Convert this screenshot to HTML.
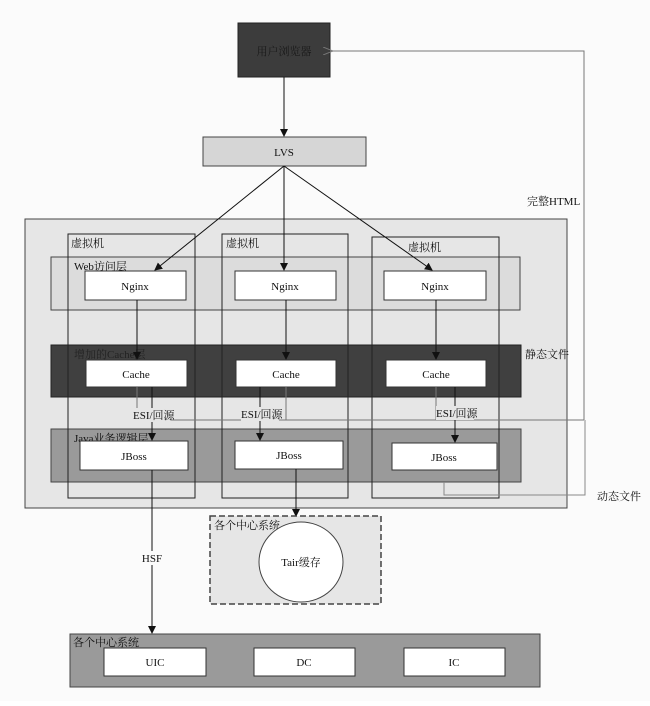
<!DOCTYPE html>
<html><head><meta charset="utf-8"><style>
html,body{margin:0;padding:0;background:#fff;}
svg text{font-family:"Liberation Serif","Noto Serif CJK SC",serif;font-size:11px;fill:#111;}
</style></head><body>
<svg width="650" height="701" viewBox="0 0 650 701" xmlns="http://www.w3.org/2000/svg">
<defs>
<marker id="a" markerWidth="8" markerHeight="8" refX="7" refY="4" orient="auto" markerUnits="userSpaceOnUse"><path d="M0,0 L8,4 L0,8 z" fill="#111"/></marker>
<marker id="g" markerWidth="10" markerHeight="8" refX="1" refY="4" orient="auto" markerUnits="userSpaceOnUse"><path d="M10,0 L0,4 L10,8" fill="none" stroke="#777"/></marker>
</defs>
<rect width="650" height="701" fill="#fbfbfb"/>
<!-- browser -->
<rect x="238" y="23" width="92" height="54" fill="#3c3c3c" stroke="#222"/>
<text x="284" y="55" text-anchor="middle" fill="#222" style="fill:#1a1a1a">用户浏览器</text>
<line x1="284" y1="77" x2="284" y2="136" stroke="#111" marker-end="url(#a)"/>
<!-- LVS -->
<rect x="203" y="137" width="163" height="29" fill="#d6d6d6" stroke="#444"/>
<text x="284" y="156" text-anchor="middle">LVS</text>
<!-- feedback -->
<polyline points="584,420 584,51 332,51" fill="none" stroke="#777" marker-end="url(#g)"/>
<text x="527" y="205">完整HTML</text>
<!-- outer -->
<rect x="25" y="219" width="542" height="289" fill="#e6e6e6" stroke="#444"/>
<!-- layers -->
<rect x="51" y="257" width="469" height="53" fill="#dcdcdc" stroke="#444"/>
<rect x="51" y="345" width="470" height="52" fill="#404040" stroke="#222"/>
<rect x="51" y="429" width="470" height="53" fill="#9a9a9a" stroke="#444"/>
<!-- VMs -->
<rect x="68" y="234" width="127" height="264" fill="none" stroke="#222"/>
<rect x="222" y="234" width="126" height="264" fill="none" stroke="#222"/>
<rect x="372" y="237" width="127" height="261" fill="none" stroke="#222"/>
<text x="71" y="247">虚拟机</text>
<text x="226" y="247">虚拟机</text>
<text x="408" y="251">虚拟机</text>
<text x="74" y="270">Web访问层</text>
<text x="74" y="358" style="fill:#222">增加的Cache层</text>
<text x="74" y="442">Java业务逻辑层</text>
<text x="525" y="358">静态文件</text>
<!-- LVS to nginx -->
<line x1="284" y1="166" x2="155" y2="270" stroke="#111" marker-end="url(#a)"/>
<line x1="284" y1="166" x2="284" y2="270" stroke="#111" marker-end="url(#a)"/>
<line x1="284" y1="166" x2="432" y2="270" stroke="#111" marker-end="url(#a)"/>
<!-- nginx -->
<rect x="85" y="271" width="101" height="29" fill="#fff" stroke="#333"/>
<rect x="235" y="271" width="101" height="29" fill="#fff" stroke="#333"/>
<rect x="384" y="271" width="102" height="29" fill="#fff" stroke="#333"/>
<text x="135" y="290" text-anchor="middle">Nginx</text>
<text x="285" y="290" text-anchor="middle">Nginx</text>
<text x="435" y="290" text-anchor="middle">Nginx</text>
<line x1="137" y1="300" x2="137" y2="359" stroke="#111" marker-end="url(#a)"/>
<line x1="286" y1="300" x2="286" y2="359" stroke="#111" marker-end="url(#a)"/>
<line x1="436" y1="300" x2="436" y2="359" stroke="#111" marker-end="url(#a)"/>
<!-- cache -->
<rect x="86" y="360" width="101" height="27" fill="#fff" stroke="#333"/>
<rect x="236" y="360" width="100" height="27" fill="#fff" stroke="#333"/>
<rect x="386" y="360" width="100" height="27" fill="#fff" stroke="#333"/>
<text x="136" y="378" text-anchor="middle">Cache</text>
<text x="286" y="378" text-anchor="middle">Cache</text>
<text x="436" y="378" text-anchor="middle">Cache</text>
<!-- ESI lines -->
<line x1="137" y1="387" x2="137" y2="420" stroke="#777"/>
<line x1="286" y1="387" x2="286" y2="420" stroke="#777"/>
<line x1="436" y1="387" x2="436" y2="420" stroke="#777"/>
<line x1="170" y1="420" x2="584" y2="420" stroke="#777"/>
<line x1="152" y1="387" x2="152" y2="440" stroke="#111" marker-end="url(#a)"/>
<line x1="260" y1="387" x2="260" y2="440" stroke="#111" marker-end="url(#a)"/>
<line x1="455" y1="387" x2="455" y2="442" stroke="#111" marker-end="url(#a)"/>
<rect x="133" y="408" width="38" height="14" fill="#e6e6e6"/>
<rect x="241" y="407" width="38" height="14" fill="#e6e6e6"/>
<rect x="436" y="406" width="38" height="14" fill="#e6e6e6"/>
<text x="133" y="419">ESI/回源</text>
<text x="241" y="418">ESI/回源</text>
<text x="436" y="417">ESI/回源</text>
<!-- dynamic -->
<polyline points="444,482 444,495 585,495 585,420" fill="none" stroke="#888"/>
<text x="597" y="500">动态文件</text>
<!-- jboss -->
<rect x="80" y="441" width="108" height="29" fill="#fff" stroke="#333"/>
<rect x="235" y="441" width="108" height="28" fill="#fff" stroke="#333"/>
<rect x="392" y="443" width="105" height="27" fill="#fff" stroke="#333"/>
<text x="134" y="460" text-anchor="middle">JBoss</text>
<text x="289" y="459" text-anchor="middle">JBoss</text>
<text x="444" y="461" text-anchor="middle">JBoss</text>
<!-- to tair -->
<line x1="296" y1="469" x2="296" y2="516" stroke="#111" marker-end="url(#a)"/>
<rect x="210" y="516" width="171" height="88" fill="#e6e6e6" stroke="#444" stroke-width="1.5" stroke-dasharray="6,3"/>
<text x="214" y="529">各个中心系统</text>
<ellipse cx="301" cy="562" rx="42" ry="40" fill="#fff" stroke="#444"/>
<text x="301" y="566" text-anchor="middle">Tair缓存</text>
<!-- HSF -->
<line x1="152" y1="470" x2="152" y2="633" stroke="#111" marker-end="url(#a)"/>
<rect x="141" y="551" width="23" height="14" fill="#fbfbfb"/>
<text x="152" y="562" text-anchor="middle">HSF</text>
<!-- bottom -->
<rect x="70" y="634" width="470" height="53" fill="#9a9a9a" stroke="#444"/>
<text x="73" y="646">各个中心系统</text>
<rect x="104" y="648" width="102" height="28" fill="#fff" stroke="#333"/>
<rect x="254" y="648" width="101" height="28" fill="#fff" stroke="#333"/>
<rect x="404" y="648" width="101" height="28" fill="#fff" stroke="#333"/>
<text x="155" y="666" text-anchor="middle">UIC</text>
<text x="304" y="666" text-anchor="middle">DC</text>
<text x="454" y="666" text-anchor="middle">IC</text>
</svg>
</body></html>
